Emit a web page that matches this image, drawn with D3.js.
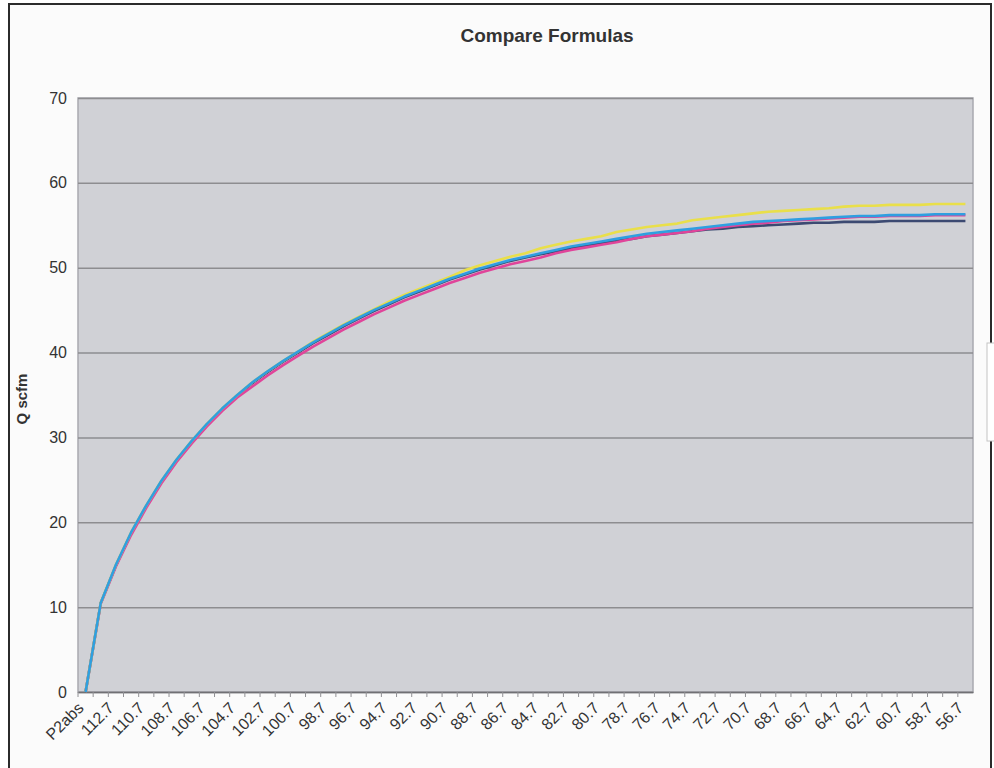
<!DOCTYPE html>
<html lang="en">
<head>
    <meta charset="UTF-8">
    <script src="https://d3js.org/d3.v7.min.js"></script>
    <title>Compare Formulas</title>
    <style>
        body {
            margin: 0;
            background: #ffffff;
            font-family: Arial, "Liberation Sans", sans-serif;
        }
        svg {
            font-family: Arial, "Liberation Sans", sans-serif;
        }
        .line {
            fill: none;
            stroke-width: 2.6;
            stroke-linejoin: round;
        }
    </style>
</head>
<body>
    <div id="chart"></div>

    <script>
        // taille de la page
        const width = 994;
        const height = 768;
        const margin = { top: 98, right: 21, bottom: 76, left: 78 };

        // catégories (P2 absolue)
        const categories = ["P2abs", "113.7", "112.7", "111.7", "110.7", "109.7", "108.7", "107.7", "106.7", "105.7",
            "104.7", "103.7", "102.7", "101.7", "100.7", "99.7", "98.7", "97.7", "96.7", "95.7",
            "94.7", "93.7", "92.7", "91.7", "90.7", "89.7", "88.7", "87.7", "86.7", "85.7",
            "84.7", "83.7", "82.7", "81.7", "80.7", "79.7", "78.7", "77.7", "76.7", "75.7",
            "74.7", "73.7", "72.7", "71.7", "70.7", "69.7", "68.7", "67.7", "66.7", "65.7",
            "64.7", "63.7", "62.7", "61.7", "60.7", "59.7", "58.7", "57.7", "56.7"];

        // valeurs (Q scfm)
        const navy = [0, 10.5, 14.9, 18.7, 21.9, 24.8, 27.3, 29.5, 31.5, 33.3,
            34.9, 36.4, 37.7, 38.9, 40.0, 41.1, 42.1, 43.1, 44.0, 44.9,
            45.7, 46.5, 47.2, 47.9, 48.6, 49.2, 49.8, 50.3, 50.8, 51.2,
            51.6, 51.9, 52.3, 52.6, 52.9, 53.2, 53.4, 53.7, 53.9, 54.1,
            54.3, 54.5, 54.6, 54.8, 54.9, 55.0, 55.1, 55.2, 55.3, 55.3,
            55.4, 55.4, 55.4, 55.5, 55.5, 55.5, 55.5, 55.5, 55.5];
        const magenta = [0, 10.4, 14.8, 18.5, 21.7, 24.6, 27.1, 29.3, 31.3, 33.1,
            34.7, 36.0, 37.3, 38.5, 39.6, 40.7, 41.7, 42.7, 43.6, 44.5,
            45.3, 46.1, 46.8, 47.5, 48.2, 48.8, 49.4, 49.9, 50.4, 50.8,
            51.2, 51.7, 52.1, 52.4, 52.7, 53.0, 53.4, 53.7, 53.9, 54.1,
            54.3, 54.6, 54.8, 55.0, 55.2, 55.3, 55.5, 55.6, 55.7, 55.8,
            55.9, 56.0, 56.0, 56.1, 56.1, 56.1, 56.2, 56.2, 56.2];
        const yellow = [0, 10.5, 15.0, 18.8, 22.0, 24.9, 27.4, 29.6, 31.6, 33.4,
            35.0, 36.5, 37.8, 39.0, 40.1, 41.3, 42.3, 43.3, 44.2, 45.1,
            46.0, 46.8, 47.5, 48.2, 48.9, 49.7, 50.3, 50.8, 51.3, 51.7,
            52.3, 52.7, 53.1, 53.4, 53.7, 54.2, 54.5, 54.8, 55.0, 55.2,
            55.6, 55.8, 56.0, 56.2, 56.4, 56.6, 56.7, 56.8, 56.9, 57.0,
            57.2, 57.3, 57.3, 57.4, 57.4, 57.4, 57.5, 57.5, 57.5];
        const cyan = [0, 10.5, 15.0, 18.8, 22.0, 24.9, 27.4, 29.6, 31.6, 33.4,
            35.0, 36.5, 37.8, 39.0, 40.1, 41.2, 42.2, 43.2, 44.1, 45.0,
            45.8, 46.6, 47.3, 48.0, 48.7, 49.3, 49.9, 50.4, 50.9, 51.3,
            51.7, 52.1, 52.5, 52.8, 53.1, 53.4, 53.7, 54.0, 54.2, 54.4,
            54.6, 54.8, 55.0, 55.2, 55.4, 55.5, 55.6, 55.7, 55.8, 55.9,
            56.0, 56.1, 56.1, 56.2, 56.2, 56.2, 56.3, 56.3, 56.3];

        const series = [navy, magenta, yellow, cyan];
        const couleurs = ["#3c4a72", "#e0449a", "#e9df4a", "#2f9fe0"];
        const yTicks = [0, 10, 20, 30, 40, 50, 60, 70];

        const svg = d3.select("#chart")
            .append("svg")
            .attr("width", width)
            .attr("height", height);

        // cadre extérieur
        svg.append("rect")
            .attr("x", 9).attr("y", 4)
            .attr("width", 982).attr("height", 790)
            .attr("fill", "#fbfbfb")
            .attr("stroke", "#2b2b2b")
            .attr("stroke-width", 2);

        // bout de légende coupé à droite
        svg.append("rect")
            .attr("x", 987).attr("y", 343)
            .attr("width", 20).attr("height", 98)
            .attr("fill", "#ffffff")
            .attr("stroke", "#c4c4c4");

        // Échelles
        const x = d3.scaleBand()
            .domain(categories)
            .range([margin.left, width - margin.right])
            .padding(0);

        const y = d3.scaleLinear()
            .domain([0, 70])
            .range([height - margin.bottom, margin.top]);

        // fond de la zone de tracé
        svg.append("rect")
            .attr("x", margin.left)
            .attr("y", margin.top)
            .attr("width", width - margin.right - margin.left)
            .attr("height", height - margin.bottom - margin.top)
            .attr("fill", "#d0d1d6")
            .attr("stroke", "#a9a9b0")
            .attr("stroke-width", 1.5);

        // quadrillage + axe Y
        const yAxis = d3.axisLeft(y)
            .tickValues(yTicks)
            .tickSize(-(width - margin.right - margin.left))
            .tickPadding(11);

        svg.append("g")
            .attr("class", "y-axis")
            .attr("transform", `translate(${margin.left},0)`)
            .call(yAxis)
            .call(g => g.select(".domain").remove())
            .call(g => g.selectAll(".tick line")
                .attr("stroke", "#8d8d90")
                .attr("stroke-width", 1.5))
            .call(g => g.selectAll(".tick text")
                .attr("fill", "#333")
                .style("font-size", "16px"));

        // petits traits sous l'axe, étiquettes une sur deux
        const xAxis = d3.axisBottom(x)
            .tickSize(0)
            .tickFormat((d, i) => i % 2 === 0 ? d : "");

        svg.append("g")
            .attr("class", "x-axis")
            .attr("transform", `translate(0,${height - margin.bottom})`)
            .call(xAxis)
            .call(g => g.select(".domain")
                .attr("stroke", "#707074")
                .attr("stroke-width", 1.5))
            .call(g => g.selectAll(".tick text")
                .attr("fill", "#333")
                .style("font-size", "16px")
                .attr("text-anchor", "end")
                .attr("transform", "translate(-5,13) rotate(-45)")
                .attr("dy", "0.35em")
                .attr("y", 0));

        svg.append("g")
            .selectAll("line")
            .data(categories)
            .join("line")
            .attr("x1", d => x(d))
            .attr("x2", d => x(d))
            .attr("y1", height - margin.bottom)
            .attr("y2", height - margin.bottom + 5)
            .attr("stroke", "#909094");

        // titre
        svg.append("text")
            .attr("x", 547)
            .attr("y", 42)
            .attr("text-anchor", "middle")
            .style("font-size", "19px")
            .style("font-weight", "bold")
            .attr("fill", "#333")
            .text("Compare Formulas");

        // titre axe Y
        svg.append("text")
            .attr("transform", "translate(27,399) rotate(-90)")
            .attr("text-anchor", "middle")
            .style("font-size", "15px")
            .style("font-weight", "bold")
            .attr("fill", "#333")
            .text("Q scfm");

        // Tracer les lignes
        const line = d3.line()
            .x((d, i) => x(categories[i]) + x.bandwidth() / 2)
            .y(d => y(d));

        series.forEach((data, i) => {
            svg.append("path")
                .datum(data)
                .attr("class", "line")
                .attr("stroke", couleurs[i])
                .attr("d", line);
        });
    </script>
</body>
</html>
